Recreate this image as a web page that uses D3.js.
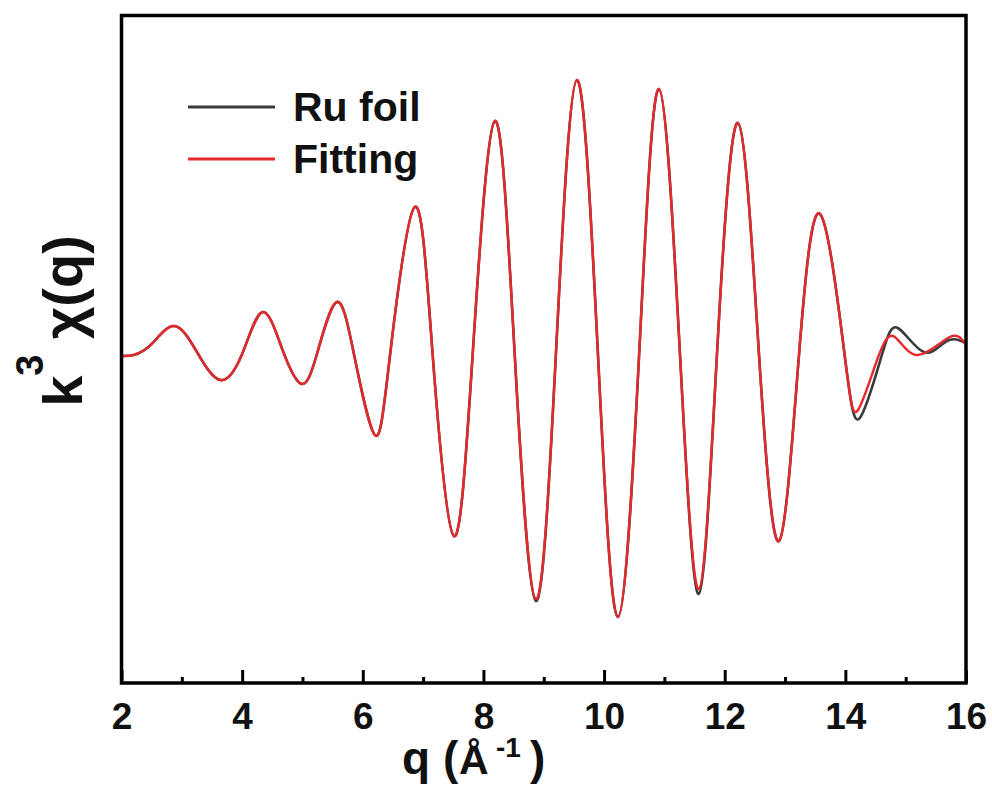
<!DOCTYPE html>
<html>
<head>
<meta charset="utf-8">
<script src="https://cdn.jsdelivr.net/npm/d3@7"></script>
<style>
  body { margin: 0; background: #fff; }
  svg { display: block; }
  text { font-family: "Liberation Sans", Arial, sans-serif; font-weight: bold; fill: #111; }
</style>
</head>
<body>
<svg id="chart" width="992" height="789"></svg>
<script>
// values (arbitrary y units, 0 = baseline)
let ruQ = [2.00, 2.20, 2.50, 2.88, 3.26, 3.64, 4.00, 4.34, 4.67, 4.99, 5.25, 5.57, 5.86, 6.20,
  6.45, 6.86, 7.16, 7.51, 7.82, 8.19, 8.52, 8.87, 9.20, 9.55, 9.90, 10.23, 10.58, 10.91,
  11.26, 11.57, 11.87, 12.22, 12.57, 12.90, 13.23, 13.58, 13.99, 14.24, 14.60, 14.87,
  15.30, 15.68, 16.00];
let ruVal = [0.0, 0.1, 1.2, 3.0, 0.3, -2.4, 0.2, 4.4, 0.6, -2.8, 0.4, 5.4, 0.0, -7.9,
  0.0, 14.9, 0.0, -18.0, 0.0, 23.5, 0.0, -24.5, 0.0, 27.6, 0.0, -26.1, 0.0, 26.7,
  0.0, -23.8, 0.0, 23.3, 0.0, -18.5, 0.0, 14.2, 0.0, -6.2, 0.0, 2.8,
  0.4, 1.5, 1.3];

let fitQ = [2.00, 2.20, 2.50, 2.88, 3.26, 3.64, 4.00, 4.34, 4.67, 4.99, 5.25, 5.57, 5.86, 6.20,
  6.45, 6.86, 7.16, 7.51, 7.82, 8.19, 8.52, 8.87, 9.20, 9.55, 9.90, 10.23, 10.58, 10.91,
  11.26, 11.57, 11.87, 12.22, 12.57, 12.90, 13.23, 13.58, 13.99, 14.21, 14.55, 14.82,
  15.20, 15.73, 16.00];
let fitVal = [0.0, 0.1, 1.2, 3.0, 0.3, -2.4, 0.2, 4.4, 0.6, -2.8, 0.4, 5.4, 0.0, -7.9,
  0.0, 14.9, 0.0, -18.0, 0.0, 23.5, 0.0, -24.3, 0.0, 27.6, 0.0, -26.1, 0.0, 26.7,
  0.0, -23.3, 0.0, 23.3, 0.0, -18.5, 0.0, 14.2, 0.0, -5.4, 0.0, 1.9,
  0.1, 1.9, 1.1];

let xTicks = [2, 4, 6, 8, 10, 12, 14, 16];
let xMinor = [3, 5, 7, 9, 11, 13, 15];
let seriesNames = ["Ru foil", "Fitting"];
let seriesColors = ["#3a3a3a", "#e8292c"];

let svg = d3.select("#chart");

let margin = { top: 15.5, right: 26, bottom: 106, left: 121.5 };
let width = 992, height = 789;

let x = d3.scaleLinear().domain([2, 16]).range([margin.left, width - margin.right]);
let y = d3.scaleLinear().domain([-32.7, 34.05]).range([height - margin.bottom, margin.top]);

let line = d3.line()
  .x(d => x(d[0]))
  .y(d => y(d[1]))
  .curve(d3.curveNatural);

let ruData = d3.zip(ruQ, ruVal);
let fitData = d3.zip(fitQ, fitVal);

let plot = svg.append("g").attr("id", "plot");

plot.append("path").datum(ruData)
  .attr("d", line).attr("fill", "none")
  .attr("stroke", seriesColors[0]).attr("stroke-width", 2.6);

plot.append("path").datum(fitData)
  .attr("d", line).attr("fill", "none")
  .attr("stroke", seriesColors[1]).attr("stroke-width", 2.4);

// frame
svg.append("rect")
  .attr("x", x(2)).attr("y", y(34.05))
  .attr("width", x(16) - x(2)).attr("height", y(-32.7) - y(34.05))
  .attr("fill", "none").attr("stroke", "#000").attr("stroke-width", 3.5);

// bottom axis, ticks inward
let xAxis = d3.axisBottom(x).tickValues(xTicks).tickSize(-13).tickPadding(20).tickFormat(d3.format("d"));
let xGroup = svg.append("g").attr("transform", "translate(0," + y(-32.7) + ")").call(xAxis);
xGroup.select(".domain").remove();
xGroup.selectAll(".tick line").attr("stroke", "#000").attr("stroke-width", 3);
xGroup.selectAll(".tick text")
  .attr("font-size", 37).attr("font-family", "Liberation Sans, Arial, sans-serif")
  .attr("font-weight", "bold").attr("fill", "#111");

let minorAxis = d3.axisBottom(x).tickValues(xMinor).tickSize(-6).tickFormat("");
let mGroup = svg.append("g").attr("transform", "translate(0," + y(-32.7) + ")").call(minorAxis);
mGroup.select(".domain").remove();
mGroup.selectAll(".tick line").attr("stroke", "#000").attr("stroke-width", 3);

// x label
let xl = svg.append("text").attr("x", 402).attr("y", 774);
xl.append("tspan").attr("font-size", 46).text("q (");
xl.append("tspan").attr("x", 459).attr("font-size", 41).text("Å");
xl.append("tspan").attr("x", 496).attr("dy", -17).attr("font-size", 28).text("-1");
xl.append("tspan").attr("x", 530).attr("dy", 17).attr("font-size", 46).text(")");

// y label
let yl = svg.append("text")
  .attr("transform", "translate(82,321) rotate(-90)")
  .attr("text-anchor", "middle");
yl.append("tspan").attr("font-size", 56).text("k");
yl.append("tspan").attr("font-size", 38).attr("dy", -39).text("3");
yl.append("tspan").attr("font-size", 56).attr("dy", 39).text(" χ(q)");

// legend
let legend = svg.append("g");
seriesNames.forEach((name, i) => {
  let ly = 107 + i * 52;
  legend.append("line")
    .attr("x1", 188).attr("x2", 275).attr("y1", ly).attr("y2", ly)
    .attr("stroke", seriesColors[i]).attr("stroke-width", 3);
  legend.append("text")
    .attr("x", 293).attr("y", ly + 14)
    .attr("font-size", 41).text(name);
});
</script>
</body>
</html>
